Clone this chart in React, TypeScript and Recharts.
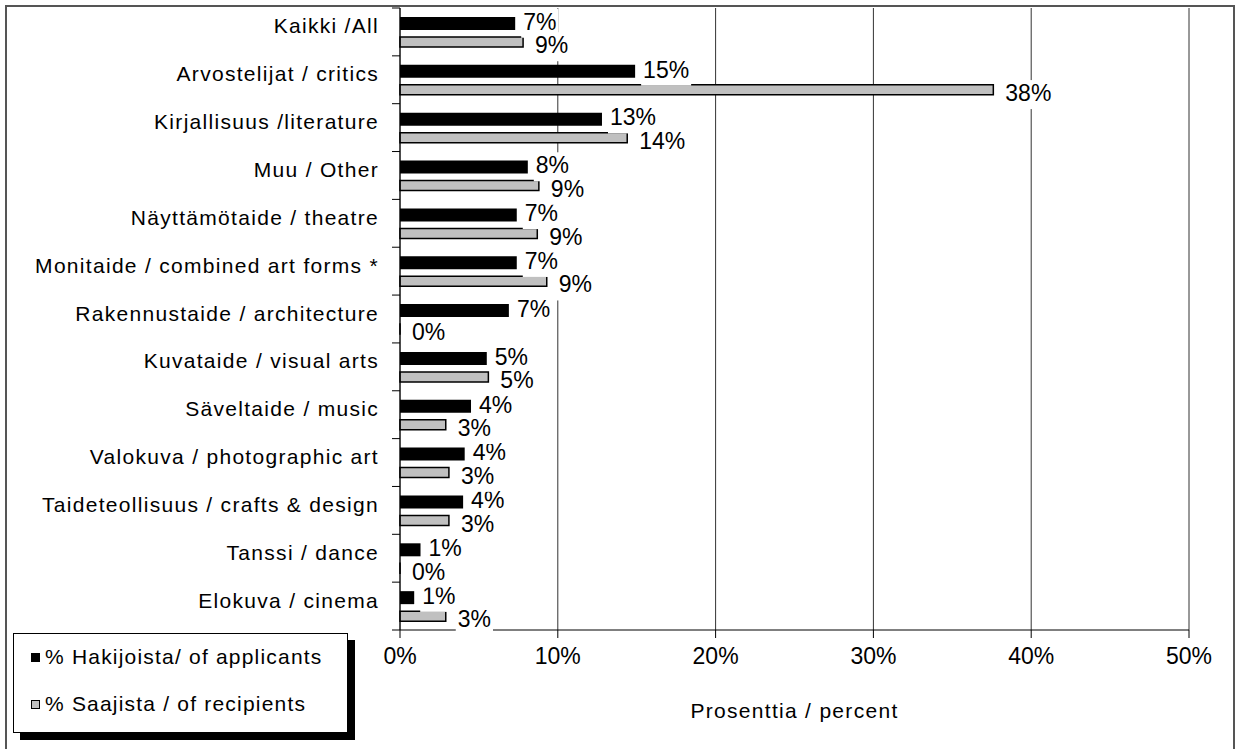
import { BarChart, Bar, XAxis, YAxis, CartesianGrid, LabelList, Label } from "recharts";

const categories = [
  "Kaikki /All",
  "Arvostelijat / critics",
  "Kirjallisuus /literature",
  "Muu / Other",
  "Näyttämötaide / theatre",
  "Monitaide / combined art forms *",
  "Rakennustaide / architecture",
  "Kuvataide / visual arts",
  "Säveltaide / music",
  "Valokuva / photographic art",
  "Taideteollisuus / crafts & design",
  "Tanssi / dance",
  "Elokuva / cinema",
];

// bar lengths as drawn (percent)
const applicants = [7.3, 14.9, 12.8, 8.1, 7.4, 7.4, 6.9, 5.5, 4.5, 4.1, 4.0, 1.3, 0.9];
const recipients = [7.8, 37.6, 14.4, 8.8, 8.7, 9.3, 0, 5.6, 2.9, 3.1, 3.1, 0, 2.9];

// printed data labels
const applicantLabels = ["7%", "15%", "13%", "8%", "7%", "7%", "7%", "5%", "4%", "4%", "4%", "1%", "1%"];
const recipientLabels = ["9%", "38%", "14%", "9%", "9%", "9%", "0%", "5%", "3%", "3%", "3%", "0%", "3%"];

const xTicks = [0, 10, 20, 30, 40, 50];
const seriesNames = ["% Hakijoista/ of applicants", "% Saajista / of recipients"];

const data = categories.map((name, i) => ({
  name,
  applicants: applicants[i],
  recipients: recipients[i],
  applicantLabel: applicantLabels[i],
  recipientLabel: recipientLabels[i],
}));

const FONT = '"Liberation Sans", Arial, sans-serif';
const W = 1237;
const H = 749;
const PLOT_LEFT = 400;
const PLOT_TOP = 8;
const PLOT_BOTTOM = 630;
const BAND = (PLOT_BOTTOM - PLOT_TOP) / categories.length;
const LABEL_FONT = 23;

function textWidth(s: string) {
  let w = 0;
  for (const ch of s) w += ch === "%" ? 0.889 : 0.556;
  return w * LABEL_FONT;
}

function makeValueLabel(dx: number, dyCap: number) {
  return (props: any) => {
    const { x, y, width, height, value } = props;
    const tx = Number(x) + Number(width) + dx;
    const baseline = Number(y) + Number(height) / 2 + dyCap + LABEL_FONT * 0.358;
    const w = textWidth(String(value));
    return (
      <g>
        <rect x={tx - 2} y={baseline - 21} width={w + 4} height={29} fill="#fff" />
        <text x={tx} y={baseline} fontSize={LABEL_FONT} fontFamily={FONT} fill="#000">
          {value}
        </text>
      </g>
    );
  };
}

const ApplicantLabel = makeValueLabel(8, -2);
const RecipientLabel = makeValueLabel(12, 3);

function CategoryTick(props: any) {
  const { y, payload, index } = props;
  const cy = Number(y);
  return (
    <g>
      <text
        x={PLOT_LEFT - 21}
        y={cy + 1.5}
        textAnchor="end"
        fontSize={21}
        letterSpacing={1.3}
        fontFamily={FONT}
        fill="#000"
      >
        {payload.value}
      </text>
      <line x1={PLOT_LEFT - 8} x2={PLOT_LEFT} y1={cy - BAND / 2} y2={cy - BAND / 2} stroke="#000" />
      {index === categories.length - 1 && (
        <line x1={PLOT_LEFT - 8} x2={PLOT_LEFT} y1={cy + BAND / 2} y2={cy + BAND / 2} stroke="#000" />
      )}
    </g>
  );
}

function AxisTitle(props: any) {
  const vb = props.viewBox;
  return (
    <text
      x={vb.x + vb.width / 2}
      y={vb.y + 88}
      textAnchor="middle"
      fontSize={21}
      letterSpacing={1.3}
      fontFamily={FONT}
      fill="#000"
    >
      Prosenttia / percent
    </text>
  );
}

function LegendBox() {
  const row = (top: number, swatch: React.CSSProperties, text: string) => (
    <div style={{ position: "absolute", left: 17, top, height: 24, display: "flex", alignItems: "center" }}>
      <div style={{ width: 9, height: 9, boxSizing: "border-box", ...swatch }} />
      <div style={{ marginLeft: 5, fontSize: 21, letterSpacing: 1.2, lineHeight: "24px", whiteSpace: "nowrap" }}>
        {text}
      </div>
    </div>
  );
  return (
    <div
      style={{
        position: "absolute",
        left: 13,
        top: 633,
        width: 335,
        height: 100,
        boxSizing: "border-box",
        border: "1px solid #000",
        background: "#fff",
        boxShadow: "7px 7px 0 #000",
      }}
    >
      {row(11, { background: "#000" }, seriesNames[0])}
      {row(58, { background: "#c0c0c0", border: "1px solid #000" }, seriesNames[1])}
    </div>
  );
}

export default function App() {
  return (
    <div
      style={{
        position: "absolute",
        left: 0,
        top: 0,
        width: W,
        height: H,
        overflow: "hidden",
        background: "#fff",
        fontFamily: FONT,
        color: "#000",
      }}
    >
      <div
        style={{
          position: "absolute",
          left: 5,
          top: 5,
          width: 1230,
          height: 800,
          boxSizing: "border-box",
          border: "2px solid #555",
        }}
      />
      <div style={{ position: "absolute", left: 0, top: 0 }}>
        <BarChart
          width={W}
          height={H}
          data={data}
          layout="vertical"
          margin={{ top: PLOT_TOP, right: 48, bottom: 29, left: 0 }}
          barGap={7}
        >
          <CartesianGrid horizontal={false} stroke="#333" />
          <XAxis
            type="number"
            domain={[0, 50]}
            ticks={xTicks}
            tickFormatter={(v) => `${v}%`}
            height={90}
            tickSize={8}
            tickMargin={10}
            axisLine={{ stroke: "#000" }}
            tickLine={{ stroke: "#000" }}
            tick={{ fontSize: 23, fill: "#000", fontFamily: FONT }}
          >
            <Label content={AxisTitle} />
          </XAxis>
          <YAxis
            type="category"
            dataKey="name"
            width={PLOT_LEFT}
            tickLine={false}
            axisLine={{ stroke: "#000" }}
            tick={CategoryTick}
            interval={0}
          />
          <Bar dataKey="applicants" fill="#000" barSize={13} isAnimationActive={false}>
            <LabelList dataKey="applicantLabel" content={ApplicantLabel} />
          </Bar>
          <Bar
            dataKey="recipients"
            fill="#c0c0c0"
            stroke="#000"
            strokeWidth={1.5}
            barSize={10}
            minPointSize={0.01}
            isAnimationActive={false}
          >
            <LabelList dataKey="recipientLabel" content={RecipientLabel} />
          </Bar>
        </BarChart>
      </div>
      <LegendBox />
    </div>
  );
}
